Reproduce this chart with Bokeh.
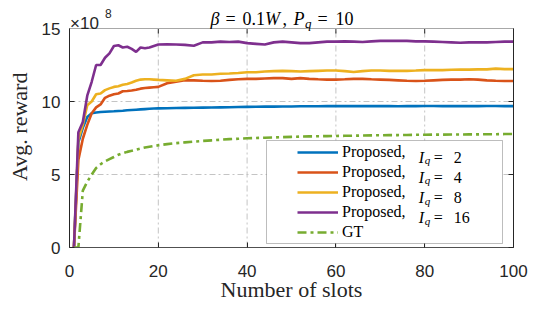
from bokeh.plotting import figure
from bokeh.models import (LinearAxis, FixedTicker, Range1d, Legend, LegendItem,
                          Label, BoxAnnotation, CustomJSTickFormatter, Span)
from bokeh.embed import file_html
from bokeh.resources import INLINE

# ---------------- data (values in units of 1e8) ----------------
slots = list(range(1, 21)) + list(range(22, 101, 2))

iq2 = [0, 7.2, 8.2, 8.94, 9.2, 9.25, 9.28, 9.3, 9.32, 9.33, 9.35, 9.37, 9.4, 9.42, 9.44, 9.46, 9.48, 9.5, 9.52, 9.53,
       9.54, 9.55, 9.56, 9.57, 9.58, 9.59, 9.6, 9.61, 9.62, 9.63, 9.64, 9.65, 9.65, 9.66, 9.66, 9.67, 9.67, 9.67, 9.68, 9.68,
       9.68, 9.68, 9.69, 9.68, 9.68, 9.68, 9.67, 9.68, 9.68, 9.69, 9.69, 9.68, 9.68, 9.68, 9.68, 9.68, 9.69, 9.69, 9.68, 9.68]
iq4 = [0, 6.0, 7.45, 8.4, 9.2, 9.6, 9.8, 10.25, 10.4, 10.5, 10.55, 10.7, 10.72, 10.75, 10.8, 10.88, 10.92, 10.95, 10.98, 11.0,
       11.25, 11.35, 11.45, 11.45, 11.42, 11.4, 11.42, 11.48, 11.52, 11.55, 11.55, 11.58, 11.6, 11.6, 11.55, 11.6, 11.55, 11.52, 11.5, 11.5,
       11.52, 11.55, 11.55, 11.52, 11.5, 11.48, 11.45, 11.42, 11.4, 11.42, 11.45, 11.48, 11.5, 11.5, 11.52, 11.5, 11.45, 11.42, 11.4, 11.4]
iq8 = [0, 7.4, 8.4, 9.75, 10.0, 10.5, 10.55, 10.78, 10.9, 11.0, 11.05, 11.15, 11.2, 11.3, 11.42, 11.5, 11.52, 11.52, 11.5, 11.48,
       11.45, 11.42, 11.55, 11.8, 11.85, 11.85, 11.9, 11.92, 11.95, 12.0, 12.0, 12.05, 12.08, 12.1, 12.08, 12.05, 12.08, 12.1, 12.12, 12.12,
       12.08, 12.02, 12.08, 12.12, 12.12, 12.1, 12.1, 12.1, 12.12, 12.15, 12.15, 12.15, 12.17, 12.18, 12.18, 12.2, 12.2, 12.25, 12.22, 12.22]
iq16 = [0, 7.9, 8.6, 10.4, 11.35, 12.5, 12.5, 13.0, 13.3, 13.8, 13.85, 13.7, 13.75, 13.6, 13.4, 13.7, 13.65, 13.7, 13.8, 13.9,
        13.92, 13.9, 13.88, 13.82, 14.05, 14.05, 14.1, 14.08, 14.1, 14.0, 13.95, 13.9, 14.05, 14.1, 14.05, 14.0, 14.0, 14.05, 14.1, 14.1,
        14.12, 14.1, 14.08, 14.12, 14.15, 14.15, 14.15, 14.15, 14.12, 14.12, 14.1, 14.08, 14.05, 14.02, 14.05, 14.05, 14.05, 14.08, 14.1, 14.1]
gt = [0, 0, 3.9, 4.5, 5.0, 5.45, 5.7, 5.9, 6.05, 6.2, 6.35, 6.45, 6.55, 6.62, 6.7, 6.78, 6.85, 6.9, 6.95, 7.0,
      7.08, 7.15, 7.2, 7.25, 7.3, 7.34, 7.38, 7.42, 7.45, 7.48, 7.5, 7.52, 7.54, 7.56, 7.58, 7.6, 7.61, 7.62, 7.63, 7.64,
      7.65, 7.66, 7.67, 7.68, 7.69, 7.7, 7.7, 7.71, 7.72, 7.72, 7.73, 7.73, 7.74, 7.74, 7.75, 7.75, 7.76, 7.76, 7.77, 7.77]

iq_values = ["2", "4", "8", "16"]
x_ticks = [0, 20, 40, 60, 80, 100]
y_ticks = [0, 5, 10, 15]
X_MIN, X_MAX = 0, 100
Y_MIN, Y_MAX = 0, 15

colors = ["#0072BD", "#D95319", "#EDB120", "#7E2F8E"]
gt_color = "#77AC30"

SERIF = "Liberation Serif"
SANS = "Liberation Sans"
INK = "#262626"
GRID = "#c4c4c4"

# layout: the frame runs from the top of the canvas so that the title can live inside it;
# the axes box itself occupies the lower PLOT_H pixels of the frame.
W, H = 534, 309
LEFT, RIGHT, BOTTOM = 69, 21, 62
FRAME_H = H - BOTTOM
PLOT_H = 219
Y_TOP = Y_MAX * FRAME_H / PLOT_H
PX = (Y_MAX - Y_MIN) / PLOT_H          # data units per pixel (vertical)

p = figure(width=W, height=H, output_backend="svg", toolbar_location=None,
           x_range=Range1d(X_MIN, X_MAX), y_range=Range1d(Y_MIN, Y_TOP), title=None,
           min_border_left=LEFT, min_border_right=RIGHT, min_border_top=0, min_border_bottom=BOTTOM)
p.background_fill_color = "white"
p.border_fill_color = "white"
p.outline_line_color = None

# vertical grid lines, limited to the axes box
p.xgrid.visible = False
p.segment(x0=x_ticks[1:-1], y0=[Y_MIN] * 4, x1=x_ticks[1:-1], y1=[Y_MAX] * 4,
          line_color=GRID, line_width=1, line_dash="6 3 2 3", level="underlay")
p.ygrid[0].ticker = FixedTicker(ticks=y_ticks)
p.ygrid[0].grid_line_color = GRID
p.ygrid[0].grid_line_dash = "6 3 2 3"
p.ygrid[0].grid_line_width = 1

renderers = []
for vals, c in zip([iq2, iq4, iq8, iq16], colors):
    renderers.append(p.line(slots, vals, line_color=c, line_width=2.6))
r_gt = p.line(slots, gt, line_color=gt_color, line_width=2.6, line_dash="9 4 3 4")

# top border of the axes box with inward ticks
p.add_layout(Span(location=Y_MAX, dimension="width", line_color="#a8a8a8", line_width=1))
p.segment(x0=x_ticks, y0=[Y_MAX] * 6, x1=x_ticks, y1=[Y_MAX - 5 * PX] * 6,
          line_color=INK, line_width=1)

# axes
for ax, ticks in ((p.xaxis[0], x_ticks), (p.yaxis[0], y_ticks)):
    ax.ticker = FixedTicker(ticks=ticks)
    ax.major_tick_in = 5
    ax.major_tick_out = 0
    ax.minor_tick_line_color = None
    ax.major_tick_line_color = INK
    ax.axis_line_color = INK
    ax.major_label_text_font = SANS
    ax.major_label_text_font_size = "17px"
    ax.major_label_text_color = INK
    ax.axis_label_text_font = SERIF
    ax.axis_label_text_font_size = "22px"
    ax.axis_label_text_font_style = "normal"
    ax.axis_label_text_color = INK
p.xaxis[0].axis_line_color = "#505050"
p.xaxis[0].axis_label = "Number of slots"
p.xaxis[0].major_label_standoff = 17
p.xaxis[0].axis_label_standoff = -3
p.yaxis[0].bounds = (Y_MIN, Y_MAX)
p.yaxis[0].major_label_standoff = 9
p.yaxis[0].axis_label = "Avg.  reward"
p.yaxis[0].axis_label_standoff = 7

right_ax = LinearAxis(ticker=FixedTicker(ticks=y_ticks), bounds=(Y_MIN, Y_MAX),
                      major_tick_in=5, major_tick_out=0, minor_tick_line_color=None,
                      formatter=CustomJSTickFormatter(code="return ''"),
                      major_label_standoff=0, major_label_text_font_size="1px",
                      axis_label_standoff=0, axis_label_text_font_size="1px",
                      axis_line_color=INK, major_tick_line_color=INK)
p.add_layout(right_ax, "right")

# text pieces in frame-relative screen units
def lab(x, y, text, size, style="normal", font=SERIF, color="black"):
    p.add_layout(Label(x=x, y=y, x_units="screen", y_units="screen", text=text,
                       text_font=font, text_font_size=size, text_font_style=style,
                       text_color=color, text_align="left", text_baseline="alphabetic"))

# title: beta = 0.1W, P_q = 10
tb = 228.7
lab(141, tb, "β", "18px", "italic")
lab(156, tb, "=", "18px")
lab(173, tb, "0.1", "18px")
lab(195.5, tb, "W", "18px", "italic")
lab(213, tb, ",", "18px")
lab(224, tb, "P", "18px", "italic")
lab(235.5, tb - 4.5, "q", "13px", "italic")
lab(248, tb, "=", "18px")
lab(266, tb, "10", "18px")

# exponent label x10^8
lab(0.5, 224.3, "×10", "17px", font=SANS, color=INK)
lab(35.5, 234.2, "8", "12px", font=SANS, color=INK)

# legend box
p.add_layout(BoxAnnotation(left=197, right=433, top=107, bottom=4,
                           left_units="screen", right_units="screen",
                           top_units="screen", bottom_units="screen",
                           fill_color="white", fill_alpha=1,
                           line_color=INK, line_width=1, level="annotation"))

items = [LegendItem(label="Proposed,", renderers=[r]) for r in renderers]
items.append(LegendItem(label="GT", renderers=[r_gt]))
legend = Legend(items=items, location=(228, 5), margin=0, padding=0, spacing=0,
                glyph_width=41, glyph_height=20, label_height=20, label_width=60,
                label_standoff=4, label_text_font=SERIF, label_text_font_size="16px",
                label_text_color="black", background_fill_alpha=0, border_line_alpha=0)
p.add_layout(legend, "center")

for i, q in enumerate(iq_values):
    b = 90.3 - 20.15 * i
    lab(349.3, b, "I", "16px", "italic")
    lab(355.3, b - 3, "q", "11px", "italic")
    lab(364.3, b, "=", "16px")
    lab(384.3, b, q, "16px")

open("out.html", "w").write(file_html(p, INLINE))
